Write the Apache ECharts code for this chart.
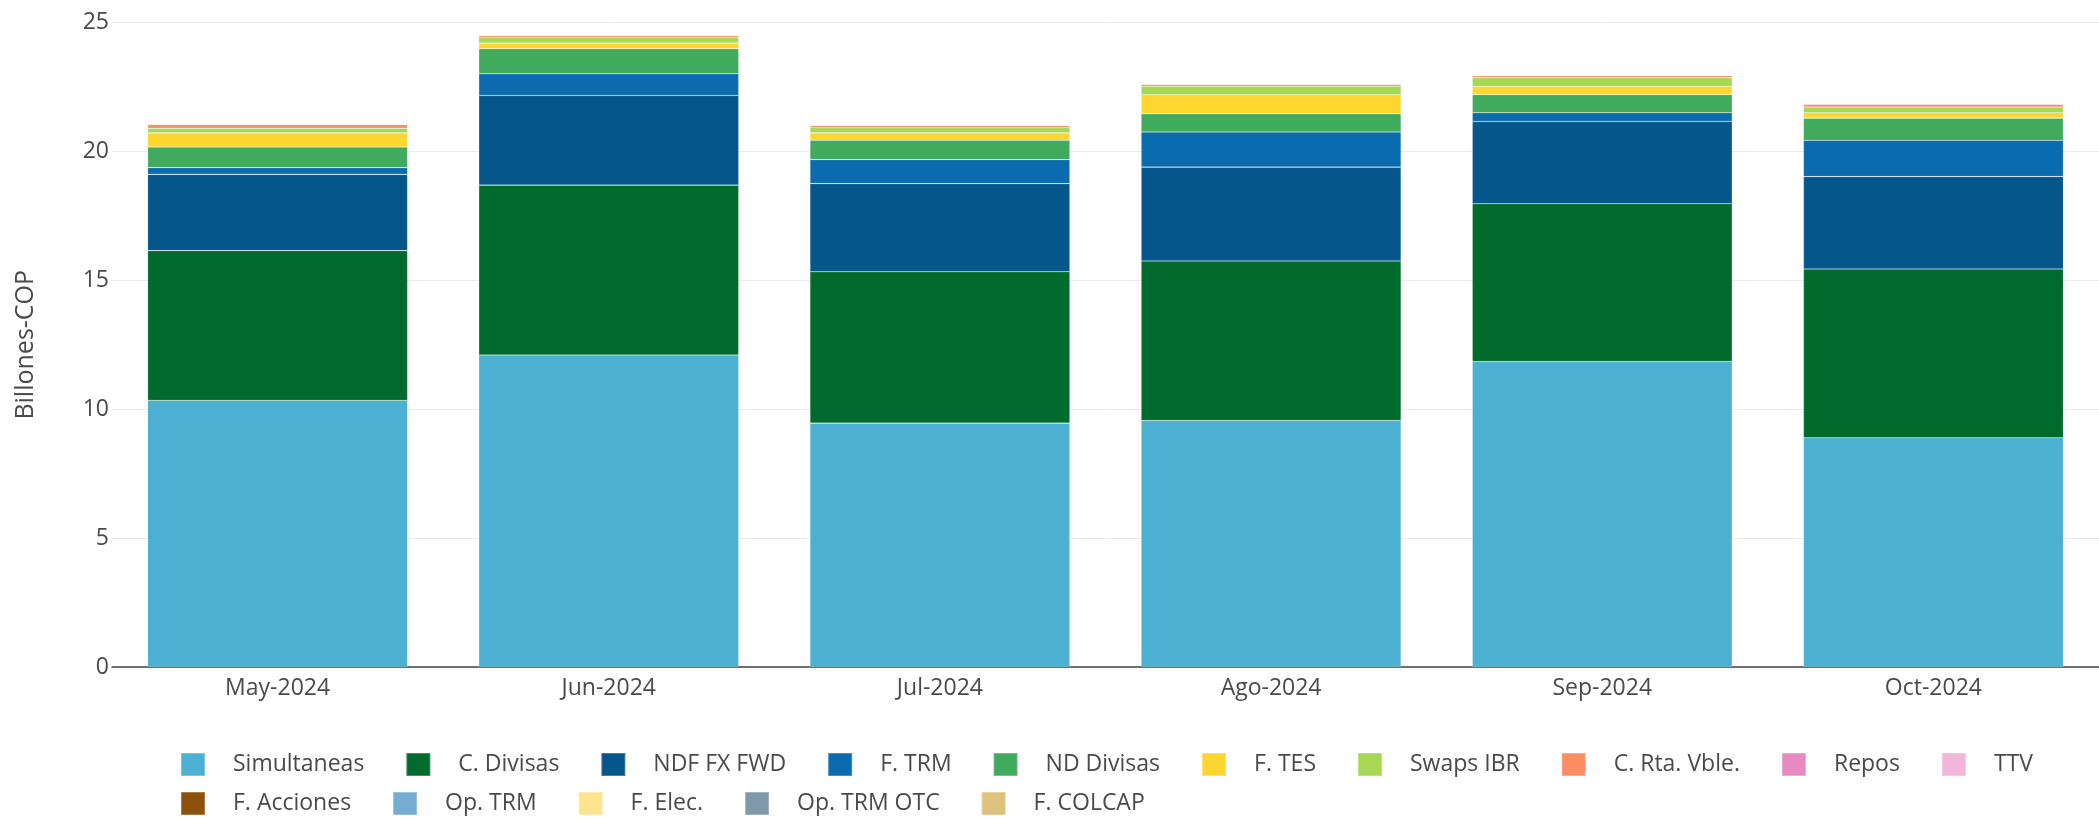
<!DOCTYPE html>
<html>
<head>
<meta charset="utf-8">
<script src="https://cdn.jsdelivr.net/npm/echarts@6/dist/echarts.min.js"></script>
<style>
html,body{margin:0;padding:0;background:#fff;}
#chart{width:2099px;height:822px;}
</style>
</head>
<body>
<div id="chart"></div>
<script>
const categories = ["May-2024", "Jun-2024", "Jul-2024", "Ago-2024", "Sep-2024", "Oct-2024"];
const seriesNames = ["Simultaneas", "C. Divisas", "NDF FX FWD", "F. TRM", "ND Divisas", "F. TES", "Swaps IBR", "C. Rta. Vble.", "Repos", "TTV", "F. Acciones", "Op. TRM", "F. Elec.", "Op. TRM OTC", "F. COLCAP"];
const simultaneas = [10.34, 12.10, 9.46, 9.56, 11.85, 8.89];
const cDivisas    = [5.81, 6.59, 5.87, 6.19, 6.12, 6.55];
const ndfFxFwd    = [2.96, 3.48, 3.42, 3.64, 3.19, 3.58];
const fTrm        = [0.26, 0.84, 0.93, 1.36, 0.34, 1.41];
const ndDivisas   = [0.80, 0.97, 0.75, 0.71, 0.70, 0.86];
const fTes        = [0.55, 0.22, 0.29, 0.74, 0.32, 0.21];
const swapsIbr    = [0.18, 0.21, 0.20, 0.33, 0.34, 0.22];
const cRtaVble    = [0.15, 0.08, 0.08, 0.08, 0.08, 0.10];
const repos       = [0.01, 0.01, 0.01, 0.01, 0.01, 0.03];
const ttv         = [0.01, 0.00, 0.00, 0.00, 0.00, 0.01];
const fAcciones   = [0.00, 0.00, 0.00, 0.00, 0.00, 0.00];
const opTrm       = [0.00, 0.00, 0.01, 0.00, 0.00, 0.02];
const fElec       = [0.00, 0.00, 0.00, 0.00, 0.00, 0.00];
const opTrmOtc    = [0.00, 0.00, 0.00, 0.00, 0.00, 0.00];
const fColcap     = [0.00, 0.00, 0.00, 0.00, 0.00, 0.00];
const yTicks = [0, 5, 10, 15, 20, 25];

const seriesData = [simultaneas, cDivisas, ndfFxFwd, fTrm, ndDivisas, fTes, swapsIbr, cRtaVble, repos, ttv, fAcciones, opTrm, fElec, opTrmOtc, fColcap];
const colors = ["#4cb0d3", "#006b2d", "#05568b", "#0a6cae", "#41ab5d", "#fed62f", "#a6d854", "#fc8d62", "#e78ac3", "#f1b6da", "#8c510a", "#74add1", "#fee391", "#7f98aa", "#dfc27d"];

const FONT = "'Open Sans', 'DejaVu Sans', sans-serif";
const legendBase = {
  orient: 'horizontal',
  left: 180,
  padding: 0,
  itemWidth: 24,
  itemHeight: 23,
  itemGap: 41,
  icon: 'rect',
  textStyle: {fontFamily: FONT, fontSize: 23, color: '#4a4a4a', padding: [0, 0, 0, 23]}
};

const chart = echarts.init(document.getElementById('chart'));
chart.setOption({
  animation: false,
  color: colors,
  grid: {left: 112, right: 0, top: 22.5, bottom: 155, containLabel: false},
  legend: [
    Object.assign({}, legendBase, {top: 752, data: seriesNames.slice(0, 10)}),
    Object.assign({}, legendBase, {top: 791, data: seriesNames.slice(10)})
  ],
  xAxis: {
    type: 'category',
    data: categories,
    axisTick: {show: false},
    axisLine: {show: true, lineStyle: {color: '#444', width: 1.5}},
    axisLabel: {fontFamily: FONT, fontSize: 23, color: '#4a4a4a', margin: 10}
  },
  yAxis: {
    type: 'value',
    min: yTicks[0],
    max: yTicks[yTicks.length - 1],
    interval: 5,
    name: 'Billones-COP',
    nameLocation: 'middle',
    nameGap: 74,
    nameTextStyle: {fontFamily: FONT, fontSize: 25, color: '#4a4a4a'},
    axisLine: {show: false},
    axisTick: {show: false},
    splitLine: {lineStyle: {color: '#ebebeb', width: 1}},
    axisLabel: {fontFamily: FONT, fontSize: 23, color: '#4a4a4a', margin: 3}
  },
  series: seriesNames.map((name, i) => ({
    name: name,
    type: 'bar',
    stack: 'total',
    barCategoryGap: '21.5%',
    data: seriesData[i],
    itemStyle: {color: colors[i], borderColor: 'rgba(255,255,255,0.25)', borderWidth: 0.6}
  }))
});
</script>
</body>
</html>
